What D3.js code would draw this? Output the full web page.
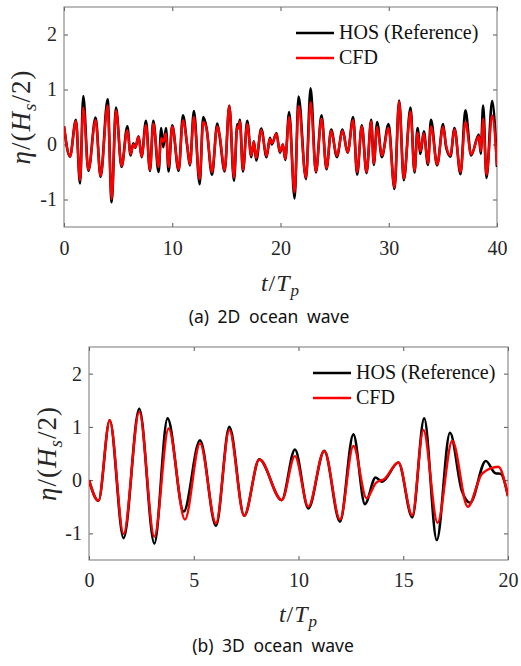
<!DOCTYPE html>
<html>
<head>
<meta charset="utf-8">
<script src="https://cdn.jsdelivr.net/npm/d3@7/dist/d3.min.js"></script>
<style>
  body { margin: 0; background: #fff; }
  .tick text { font-family: "Liberation Serif", serif; font-size: 20px; fill: #262626; }
  .tick line { stroke: #555; }
  .legendText { font-family: "Liberation Serif", serif; font-size: 20px; fill: #111; }
  .mathLabel { font-family: "Liberation Serif", serif; fill: #262626; }
  .caption { font-family: "Noto Sans", sans-serif; font-size: 17.5px; fill: #111; word-spacing: 4px; }
</style>
</head>
<body>
<script>
// (a) 2D ocean wave - values read at peaks / troughs
var time2D = [0, 0.55, 1.1, 1.48, 1.78, 2.25, 2.92, 3.38, 4.03, 4.4, 4.8, 5.32, 5.85, 6.15, 6.4, 6.58, 6.89, 7.17,
    7.57, 7.94, 8.25, 8.74, 8.98, 9.17, 9.42, 9.66, 10.0, 10.59, 10.99, 11.39, 11.63, 12.0, 12.53, 12.86, 13.17,
    13.67, 14.16, 14.37, 14.84, 15.27, 15.7, 16.01, 16.12, 16.25, 16.53, 16.93, 17.3, 17.54, 17.76, 18.22, 18.71,
    19.02, 19.2, 19.63, 19.94, 20.22, 20.44, 20.8, 21.3, 21.67, 22.35, 22.78, 23.27, 23.79, 24.25, 24.68, 25.21,
    25.73, 26.2, 26.71, 27.08, 27.51, 27.95, 28.38, 28.62, 28.93, 29.36, 29.98, 30.53, 30.96, 31.39, 32.01, 32.38,
    32.66, 32.93, 33.24, 33.62, 33.9, 34.47, 35.02, 35.3, 35.7, 36.07, 36.63, 37.08, 37.61, 38.32, 38.5, 38.72,
    39.03, 39.55, 40.0];
var hos2D = [0.33, -0.22, 0.45, -0.71, 0.88, -0.48, 0.49, -0.59, 0.82, -1.05, 0.67, -0.41, 0.33, -0.2, 0.02, -0.06, 0.15, -0.23,
    0.43, -0.48, 0.43, -0.5, 0.3, -0.05, 0.3, -0.49, 0.35, -0.48, 0.53, -0.04, -0.38, 0.61, -0.72, 0.5, 0.3,
    -0.55, 0.38, 0.16, -0.49, 0.71, -0.66, 0.37, 0.3, 0.45, -0.49, 0.43, -0.23, 0.06, -0.29, 0.29, -0.23,
    0.12, 0.0, 0.21, -0.15, 0.0, -0.28, 0.59, -0.98, 0.87, -0.63, 1.02, -0.51, 0.53, -0.45, 0.27, -0.23,
    0.27, -0.15, 0.5, -0.55, 0.35, -0.52, 0.45, -0.37, 0.41, -0.23, 0.37, -0.81, 0.8, -0.65, 0.67, -0.51,
    0.3, -0.17, 0.24, -0.37, 0.45, -0.38, 0.37, -0.05, -0.22, 0.3, -0.54, 0.62, -0.2, 0.18, -0.17, 0.71,
    -0.61, 0.79, -0.41];
var cfd2D = [0.33, -0.22, 0.43, -0.65, 0.67, -0.46, 0.44, -0.57, 0.71, -0.99, 0.62, -0.39, 0.26, -0.18, 0.0, -0.05, 0.14, -0.22,
    0.35, -0.46, 0.38, -0.41, 0.12, 0.05, 0.2, -0.41, 0.33, -0.45, 0.44, -0.02, -0.36, 0.5, -0.63, 0.41, 0.28,
    -0.5, 0.33, 0.18, -0.47, 0.7, -0.6, 0.33, 0.29, 0.42, -0.46, 0.37, -0.2, 0.05, -0.25, 0.27, -0.21,
    0.1, 0.02, 0.19, -0.13, 0.0, -0.26, 0.5, -0.87, 0.7, -0.6, 0.77, -0.49, 0.47, -0.43, 0.25, -0.21,
    0.25, -0.14, 0.44, -0.5, 0.33, -0.5, 0.42, -0.34, 0.32, -0.2, 0.3, -0.78, 0.78, -0.62, 0.6, -0.48,
    0.22, -0.12, 0.2, -0.34, 0.33, -0.36, 0.32, -0.02, -0.2, 0.28, -0.5, 0.41, -0.18, 0.15, -0.12, 0.47,
    -0.55, 0.53, -0.38];

// (b) 3D ocean wave
var timeHos3D = [0, 0.45, 0.99, 1.65, 2.4, 3.12, 3.75, 4.52, 5.3, 6.06, 6.7, 7.41, 8.13, 9.2, 9.83, 10.47, 11.23,
    11.98, 12.62, 13.17, 13.68, 13.99, 14.77, 15.43, 16.0, 16.6, 17.23, 17.79, 18.19, 18.94, 19.4, 19.65, 20.0];
var hos3D = [0, -0.39, 1.125, -1.09, 1.34, -1.19, 1.16, -0.59, 0.75, -0.86, 1.0, -0.67, 0.39, -0.375, 0.575, -0.53, 0.55,
    -0.78, 0.86, -0.45, 0.05, -0.03, 0.33, -0.7, 1.16, -1.125, 0.89, -0.19, -0.425, 0.36, 0.13, 0.12, -0.3];
var timeCfd3D = [0, 0.45, 0.99, 1.65, 2.4, 3.12, 3.8, 4.58, 5.3, 6.06, 6.7, 7.41, 8.13, 9.2, 9.83, 10.47, 11.23,
    11.98, 12.62, 13.25, 13.7, 14.1, 14.77, 15.43, 15.96, 16.64, 17.34, 18.08, 18.77, 19.54, 20.0];
var cfd3D = [0, -0.39, 1.125, -1.01, 1.28, -1.06, 0.97, -0.74, 0.69, -0.81, 0.94, -0.67, 0.39, -0.375, 0.45, -0.5, 0.55,
    -0.74, 0.64, -0.34, -0.05, 0.02, 0.33, -0.66, 0.94, -0.8, 0.74, -0.5, 0.125, 0.25, -0.3];

var xTicks2D = [0, 10, 20, 30, 40];
var xTicks3D = [0, 5, 10, 15, 20];
var yTicks = [-1, 0, 1, 2];
var legendLabels = ["HOS (Reference)", "CFD"];
var captions = ["(a) 2D ocean wave", "(b) 3D ocean wave"];

var svgWidth = 521;
var svgHeight = 666;

var svg = d3.select("body")
    .append("svg")
    .attr("width", svgWidth)
    .attr("height", svgHeight);

var panels = [
    { left: 64, top: 7, right: 497, bottom: 227, xMax: 40, xTicks: xTicks2D,
      hosT: time2D, hosV: hos2D, cfdT: time2D, cfdV: cfd2D,
      tickPad: 14, legX: 296, legY: 33, yLabX: 30, xLabY: 291, capX: 269, capY: 323, caption: captions[0] },
    { left: 89, top: 347, right: 508, bottom: 560, xMax: 20, xTicks: xTicks3D,
      hosT: timeHos3D, hosV: hos3D, cfdT: timeCfd3D, cfdV: cfd3D,
      tickPad: 13, legX: 313, legY: 373, yLabX: 56, xLabY: 622, capX: 273, capY: 652, caption: captions[1] }
];

panels.forEach(function(p, i) {
    var w = p.right - p.left;
    var h = p.bottom - p.top;

    var chartGroup = svg.append("g")
        .attr("transform", `translate(${p.left}, ${p.top})`);

    var xScale = d3.scaleLinear().domain([0, p.xMax]).range([0, w]);
    var yScale = d3.scaleLinear().domain([-1.5, 2.5]).range([h, 0]);

    // clip
    chartGroup.append("clipPath").attr("id", "clip" + i)
        .append("rect").attr("width", w).attr("height", h);

    // axes, ticks pointing inward on all four sides
    chartGroup.append("g")
        .attr("font-family", "Liberation Serif")
        .attr("transform", `translate(0, ${h})`)
        .call(d3.axisBottom(xScale).tickValues(p.xTicks).tickSize(-4).tickSizeOuter(0).tickPadding(p.tickPad))
        .call(g => g.select(".domain").remove());
    chartGroup.append("g")
        .call(d3.axisTop(xScale).tickValues(p.xTicks).tickSize(-4).tickSizeOuter(0).tickFormat(""))
        .call(g => g.select(".domain").remove());
    chartGroup.append("g")
        .call(d3.axisLeft(yScale).tickValues(yTicks).tickSize(-4).tickSizeOuter(0).tickPadding(7)
            .tickFormat(d => d < 0 ? "-" + Math.abs(d) : d))
        .call(g => g.select(".domain").remove());
    chartGroup.append("g")
        .attr("transform", `translate(${w}, 0)`)
        .call(d3.axisRight(yScale).tickValues(yTicks).tickSize(-4).tickSizeOuter(0).tickFormat(""))
        .call(g => g.select(".domain").remove());

    chartGroup.append("rect")
        .attr("width", w)
        .attr("height", h)
        .attr("fill", "none")
        .attr("stroke", "#777")
        .attr("stroke-width", 1);

    var line = d3.line()
        .x(d => xScale(d[0]))
        .y(d => yScale(d[1]))
        .curve(d3.curveMonotoneX);

    var hosData = p.hosT.map((t, k) => [t, p.hosV[k]]);
    var cfdData = p.cfdT.map((t, k) => [t, p.cfdV[k]]);

    chartGroup.append("path")
        .datum(hosData)
        .attr("clip-path", `url(#clip${i})`)
        .attr("d", line)
        .attr("fill", "none")
        .attr("stroke", "#000")
        .attr("stroke-width", 2.6);

    chartGroup.append("path")
        .datum(cfdData)
        .attr("clip-path", `url(#clip${i})`)
        .attr("d", line)
        .attr("fill", "none")
        .attr("stroke", "#ff0000")
        .attr("stroke-width", 2.4);

    // legend
    var legColors = ["#000", "#ff0000"];
    legendLabels.forEach(function(lab, k) {
        var ly = p.legY + k * 25;
        svg.append("line")
            .attr("x1", p.legX).attr("x2", p.legX + 38)
            .attr("y1", ly).attr("y2", ly)
            .attr("stroke", legColors[k])
            .attr("stroke-width", 2.4);
        svg.append("text")
            .attr("class", "legendText")
            .attr("x", p.legX + 43)
            .attr("y", ly + 6)
            .text(lab);
    });

    // y label  eta/(H_s/2)
    var yLab = svg.append("text")
        .attr("class", "mathLabel")
        .attr("transform", `translate(${p.yLabX}, ${(p.top + p.bottom) / 2}) rotate(-90)`)
        .attr("text-anchor", "middle")
        .attr("font-size", "27px")
        .attr("letter-spacing", "1px");
    yLab.append("tspan").attr("font-style", "italic").text("η");
    yLab.append("tspan").text("/(");
    yLab.append("tspan").attr("font-style", "italic").text("H");
    yLab.append("tspan").attr("font-style", "italic").attr("font-size", "19px").attr("dy", 6).text("s");
    yLab.append("tspan").attr("dy", -6).text("/2)");

    // x label  t/T_p
    var xLab = svg.append("text")
        .attr("class", "mathLabel")
        .attr("x", (p.left + p.right) / 2)
        .attr("y", p.xLabY)
        .attr("text-anchor", "middle")
        .attr("font-size", "24px")
        .attr("letter-spacing", "1px");
    xLab.append("tspan").attr("font-style", "italic").text("t");
    xLab.append("tspan").text("/");
    xLab.append("tspan").attr("font-style", "italic").text("T");
    xLab.append("tspan").attr("font-style", "italic").attr("font-size", "17px").attr("dy", 5).text("p");

    svg.append("text")
        .attr("class", "caption")
        .attr("x", p.capX)
        .attr("y", p.capY)
        .attr("text-anchor", "middle")
        .text(p.caption);
});
</script>
</body>
</html>
